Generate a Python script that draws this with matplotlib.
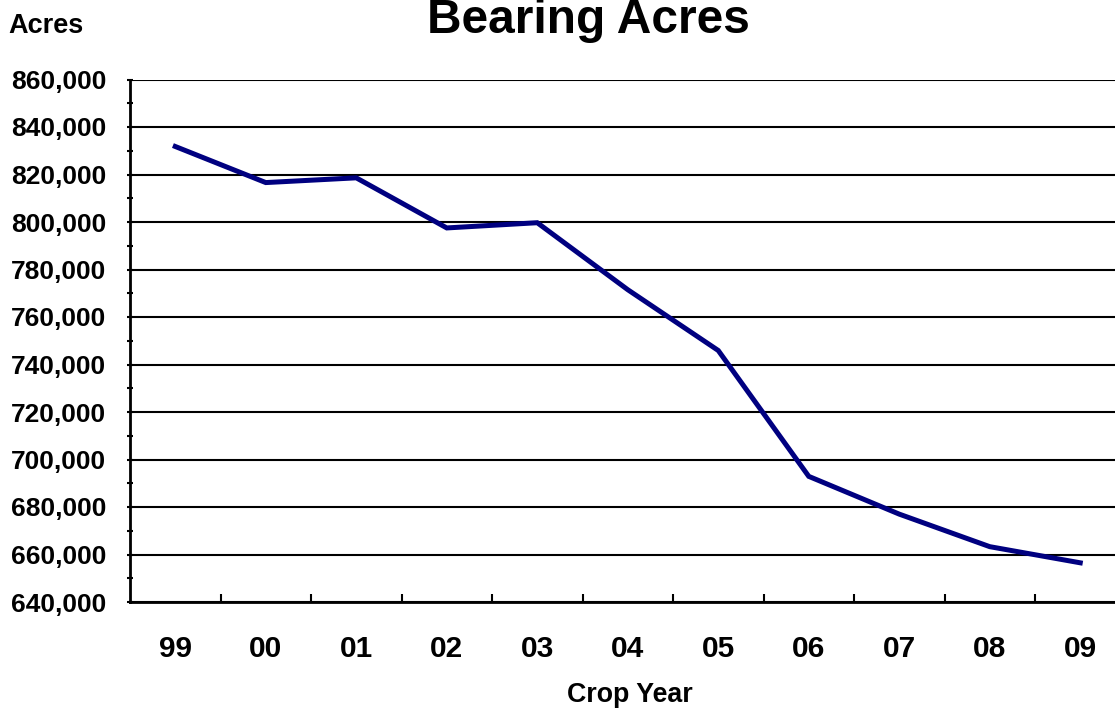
import numpy as np
import matplotlib
matplotlib.use("Agg")
import matplotlib.pyplot as plt
from matplotlib.ticker import MultipleLocator, FuncFormatter

# data
years = ["99", "00", "01", "02", "03", "04", "05", "06", "07", "08", "09"]
acres = [831800, 816600, 818600, 797500, 799700, 771500, 745900, 692900, 677000, 663300, 656500]

plt.rcParams["font.family"] = ["Liberation Sans", "DejaVu Sans"]
plt.rcParams["font.weight"] = "bold"

W, H = 1115, 708
fig = plt.figure(figsize=(W / 100, H / 100), dpi=100)
left, right, top, bottom = 130, 1125.5, 79.5, 602
ax = fig.add_axes([left / W, 1 - bottom / H, (right - left) / W, (bottom - top) / H])

x = np.arange(len(years))
ax.plot(x, acres, color="#000080", linewidth=3.6, solid_joinstyle="miter", zorder=3)

ax.set_xlim(-0.5, len(years) - 0.5)
ax.set_ylim(640000, 860000)

ax.yaxis.set_major_locator(MultipleLocator(20000))
ax.yaxis.set_minor_locator(MultipleLocator(10000))
ax.yaxis.set_major_formatter(FuncFormatter(lambda v, p: f"{int(v):,}"))
ax.grid(axis="y", which="major", color="black", linewidth=1.5, zorder=1)

ax.set_xticks(x)
ax.set_xticklabels(years)
ax.set_xticks(np.arange(0.5, len(years) - 0.5, 1), minor=True)

ax.tick_params(axis="x", which="major", length=0, pad=24, labelsize=21.5)
ax.tick_params(axis="x", which="minor", direction="in", length=6, width=1.5)
ax.tick_params(axis="y", which="major", direction="inout", length=4, width=1.5, pad=15, labelsize=19)
ax.tick_params(axis="y", which="minor", direction="inout", length=5, width=1.5)

for s in ["top", "right"]:
    ax.spines[s].set_visible(False)
for s in ["left", "bottom"]:
    ax.spines[s].set_linewidth(2)

fig.text(588 / W, (H - 33) / H, "Bearing Acres", ha="center", va="baseline", fontsize=34.5, fontweight="bold")
fig.text(8 / W, (H - 33) / H, "Acres", ha="left", va="baseline", fontsize=19.5, fontweight="bold")
fig.text(630 / W, (H - 701.5) / H, "Crop Year", ha="center", va="baseline", fontsize=19.3, fontweight="bold")

fig.savefig("out.png", dpi=100)
